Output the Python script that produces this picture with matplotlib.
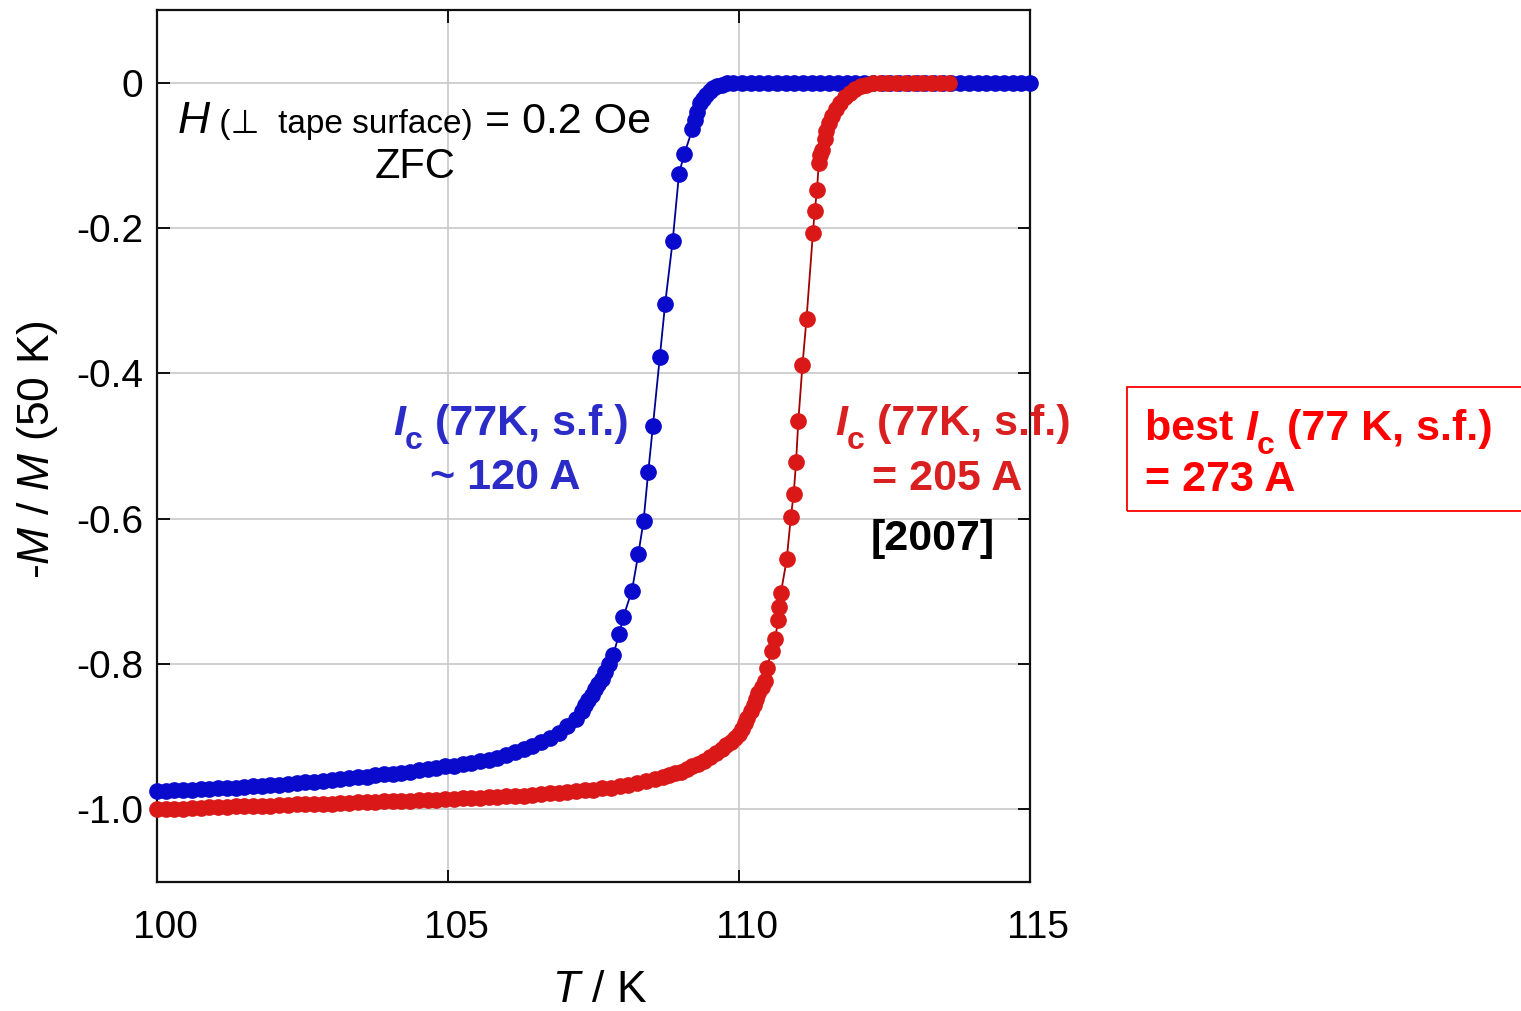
import matplotlib
matplotlib.use("Agg")
import matplotlib.pyplot as plt
from matplotlib.transforms import ScaledTranslation
from matplotlib.patches import Rectangle

# ---- data: ZFC magnetisation of two tapes, normalised to M(50 K) ----
blue_T = [
    100.00, 100.15, 100.30, 100.45, 100.60, 100.75, 100.90, 101.05, 101.20, 101.35,
    101.50, 101.65, 101.80, 101.95, 102.10, 102.25, 102.40, 102.55, 102.70, 102.85,
    103.00, 103.15, 103.30, 103.45, 103.60, 103.75, 103.90, 104.05, 104.20, 104.35,
    104.50, 104.65, 104.80, 104.95, 105.10, 105.25, 105.40, 105.55, 105.70, 105.85,
    106.00, 106.15, 106.30, 106.45, 106.60, 106.75, 106.90, 107.05, 107.20,
    107.30, 107.36, 107.41, 107.47, 107.53, 107.58, 107.64, 107.70, 107.77, 107.84,
    107.94, 108.01, 108.16, 108.27, 108.36, 108.44, 108.52, 108.64, 108.73, 108.86,
    108.97, 109.06, 109.20, 109.25, 109.28, 109.33, 109.38, 109.44, 109.50, 109.55,
    109.62, 109.70, 109.80, 109.90,
    110.05, 110.20, 110.35, 110.50, 110.65, 110.80, 110.95, 111.10, 111.25, 111.40,
    111.55, 111.70, 111.85, 112.00, 112.15, 112.30, 112.45, 112.60, 112.75, 112.90,
    113.05, 113.20, 113.35, 113.50, 113.65, 113.80, 113.95, 114.10, 114.25, 114.40,
    114.55, 114.70, 114.85, 115.00,
]
blue_M = [
    -0.975, -0.975, -0.974, -0.973, -0.973, -0.972, -0.972, -0.971, -0.970, -0.970,
    -0.969, -0.968, -0.968, -0.967, -0.966, -0.965, -0.964, -0.963, -0.962, -0.961,
    -0.959, -0.958, -0.957, -0.956, -0.955, -0.953, -0.952, -0.951, -0.950, -0.948,
    -0.946, -0.945, -0.943, -0.941, -0.940, -0.938, -0.936, -0.934, -0.932, -0.929,
    -0.925, -0.921, -0.917, -0.913, -0.908, -0.902, -0.895, -0.886, -0.875,
    -0.865, -0.857, -0.849, -0.842, -0.835, -0.828, -0.821, -0.811, -0.800, -0.787,
    -0.759, -0.736, -0.699, -0.649, -0.603, -0.536, -0.473, -0.377, -0.305, -0.218,
    -0.125, -0.098, -0.064, -0.052, -0.040, -0.028, -0.022, -0.017, -0.012, -0.008,
    -0.005, -0.003, -0.001, 0.000,
    0.000, 0.000, 0.000, 0.000, 0.000, 0.000, 0.000, 0.000, 0.000, 0.000,
    0.000, 0.000, 0.000, 0.000, 0.000, 0.000, 0.000, 0.000, 0.000, 0.000,
    0.000, 0.000, 0.000, 0.000, 0.000, 0.000, 0.000, 0.000, 0.000, 0.000,
    0.000, 0.000, 0.000, 0.000,
]

red_T = [
    100.00, 100.15, 100.30, 100.45, 100.60, 100.75, 100.90, 101.05, 101.20, 101.35,
    101.50, 101.65, 101.80, 101.95, 102.10, 102.25, 102.40, 102.55, 102.70, 102.85,
    103.00, 103.15, 103.30, 103.45, 103.60, 103.75, 103.90, 104.05, 104.20, 104.35,
    104.50, 104.65, 104.80, 104.95, 105.10, 105.25, 105.40, 105.55, 105.70, 105.85,
    106.00, 106.15, 106.30, 106.45, 106.60, 106.75, 106.90, 107.05, 107.20, 107.35,
    107.50, 107.65, 107.80, 107.95, 108.10, 108.25, 108.40, 108.55, 108.70,
    108.80, 108.90, 109.00, 109.10, 109.20, 109.30, 109.40, 109.50, 109.60, 109.70,
    109.78, 109.86, 109.93, 110.00, 110.05, 110.10, 110.14, 110.20, 110.25, 110.29,
    110.33, 110.39, 110.45, 110.48, 110.56, 110.62, 110.67, 110.69, 110.72, 110.82,
    110.89, 110.94, 110.98, 111.02, 111.09, 111.16, 111.27, 111.30, 111.34, 111.37,
    111.40, 111.43, 111.47, 111.50, 111.55, 111.59, 111.66, 111.74, 111.82, 111.91,
    112.00, 112.10, 112.19, 112.30, 112.42,
    112.55, 112.70, 112.85, 113.00, 113.15, 113.30, 113.45, 113.60,
]
red_M = [
    -1.000, -1.000, -0.999, -0.999, -0.998, -0.998, -0.997, -0.997, -0.997, -0.996,
    -0.996, -0.995, -0.995, -0.995, -0.994, -0.994, -0.993, -0.993, -0.992, -0.992,
    -0.992, -0.991, -0.991, -0.990, -0.990, -0.990, -0.989, -0.989, -0.988, -0.988,
    -0.987, -0.987, -0.987, -0.986, -0.986, -0.985, -0.985, -0.984, -0.983, -0.983,
    -0.982, -0.981, -0.981, -0.980, -0.979, -0.978, -0.977, -0.976, -0.975, -0.974,
    -0.973, -0.971, -0.970, -0.968, -0.966, -0.964, -0.961, -0.958, -0.955,
    -0.953, -0.950, -0.948, -0.944, -0.941, -0.937, -0.933, -0.928, -0.923, -0.917,
    -0.912, -0.907, -0.902, -0.896, -0.889, -0.881, -0.874, -0.865, -0.856, -0.848,
    -0.840, -0.832, -0.823, -0.805, -0.782, -0.766, -0.740, -0.722, -0.702, -0.656,
    -0.598, -0.566, -0.522, -0.465, -0.389, -0.325, -0.207, -0.177, -0.148, -0.111,
    -0.100, -0.092, -0.078, -0.067, -0.055, -0.046, -0.036, -0.028, -0.020, -0.014,
    -0.009, -0.005, -0.003, -0.001, 0.000,
    0.000, 0.000, 0.000, 0.000, 0.000, 0.000, 0.000, 0.000,
]
assert len(blue_T) == len(blue_M) and len(red_T) == len(red_M)

x_ticks = [100, 105, 110, 115]
y_ticks = [0.0, -0.2, -0.4, -0.6, -0.8, -1.0]
y_tick_labels = ["0", "-0.2", "-0.4", "-0.6", "-0.8", "-1.0"]

# ---- styling ----
FAM = ["Liberation Sans", "DejaVu Sans"]
plt.rcParams["font.family"] = FAM
plt.rcParams["mathtext.fontset"] = "custom"
plt.rcParams["mathtext.rm"] = "Liberation Sans"
plt.rcParams["mathtext.it"] = "Liberation Sans:italic"
plt.rcParams["mathtext.bf"] = "Liberation Sans:bold"

W, H = 1521, 1011
DPI = 100
fig = plt.figure(figsize=(W / DPI, H / DPI), dpi=DPI)
ax = fig.add_axes([157 / W, 1 - 882 / H, (1030 - 157) / W, (882 - 10) / H])

ax.set_xlim(100, 115)
ax.set_ylim(-1.1, 0.1)
ax.set_xticks(x_ticks)
ax.set_yticks(y_ticks)
ax.set_yticklabels(y_tick_labels)
ax.grid(True, color="#c8c8c8", lw=1.2, zorder=0)
ax.set_axisbelow(True)
ax.tick_params(direction="in", length=9, width=1.3, top=True, right=True,
               labelsize=28, colors="black")
ax.tick_params(axis="y", pad=10)
ax.tick_params(axis="x", pad=20)
for lab in ax.get_xticklabels():
    lab.set_transform(lab.get_transform() + ScaledTranslation(8 / 100, 0, fig.dpi_scale_trans))
for sp in ax.spines.values():
    sp.set_linewidth(1.6)
    sp.set_color("#111111")

ax.plot(blue_T, blue_M, "-o", color="#000090", lw=1.3, ms=11,
        mfc="#0a0acc", mec="#0a0acc", zorder=3, clip_on=False)
ax.plot(red_T, red_M, "-o", color="#a00000", lw=1.3, ms=11,
        mfc="#da1818", mec="#da1818", zorder=4, clip_on=False)


def fx(x):
    return x / W


def fy(y):
    return 1 - y / H


renderer = fig.canvas.get_renderer()


def run_text(x, y, pieces):
    """Draw text pieces one after another on a shared baseline (pixel coords)."""
    for s, size, kw, dy in pieces:
        t = fig.text(fx(x), fy(y + dy), s, fontsize=size, va="baseline",
                     ha="left", **kw)
        x = t.get_window_extent(renderer).x1
    return x


# axis labels
fig.text(fx(38), fy(450), r"-$M$ / $M$ (50 K)", rotation=90, fontsize=32,
         ha="center", va="center")
fig.text(fx(600), fy(990), r"$T$ / K", fontsize=32, ha="center", va="center")

# measurement conditions
run_text(178, 133, [
    ("H", 32, dict(style="italic"), 0),
    (" (\u22a5  tape surface)", 24, dict(), 0),
    (" = 0.2 Oe", 31, dict(), 0),
])
fig.text(fx(415), fy(178), "ZFC", fontsize=30, ha="center", va="baseline")

# blue sample annotation
BLUE_TXT = "#2b2bc8"
bold_b = dict(weight="bold", color=BLUE_TXT)
run_text(393, 435, [
    ("I", 31, dict(weight="bold", style="italic", color=BLUE_TXT), 0),
    ("c", 23, bold_b, 14),
    (" (77K, s.f.)", 31, bold_b, 0),
])
fig.text(fx(505), fy(489), "~ 120 A", fontsize=31, ha="center", va="baseline", **bold_b)

# red sample annotation
RED_TXT = "#d91f1f"
bold_r = dict(weight="bold", color=RED_TXT)
run_text(835, 435, [
    ("I", 31, dict(weight="bold", style="italic", color=RED_TXT), 0),
    ("c", 23, bold_r, 14),
    (" (77K, s.f.)", 31, bold_r, 0),
])
fig.text(fx(947), fy(490), "= 205 A", fontsize=31, ha="center", va="baseline", **bold_r)
fig.text(fx(933), fy(550), "[2007]", fontsize=31, ha="center", va="baseline",
         weight="bold", color="black")

# best-value box
fig.patches.append(Rectangle((fx(1127), fy(511)), fx(1530) - fx(1127), (511 - 387) / H,
                             transform=fig.transFigure, fill=False,
                             edgecolor="#ff0000", lw=1.3))
bold_p = dict(weight="bold", color="#ff0000")
run_text(1145, 440, [
    ("best ", 31, bold_p, 0),
    ("I", 31, dict(weight="bold", style="italic", color="#ff0000"), 0),
    ("c", 23, bold_p, 14),
    (" (77 K, s.f.)", 31, bold_p, 0),
])
fig.text(fx(1145), fy(491), "= 273 A", fontsize=31, ha="left", va="baseline", **bold_p)

fig.savefig("out.png", dpi=DPI)
